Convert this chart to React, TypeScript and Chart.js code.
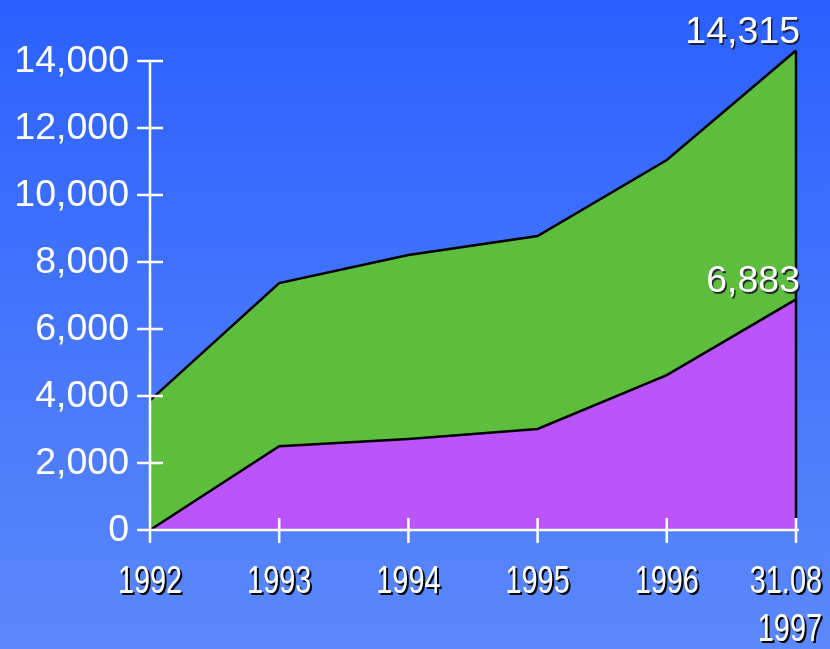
import React, { useEffect, useRef } from "react";
import { Chart, registerables } from "chart.js";

Chart.register(...registerables);

// Year categories along the bottom (multi-line labels as arrays)
const years: (string | string[])[] = ["1992", "1993", "1994", "1995", "1996", ["31.08", "1997"]];
// Lower band (purple)
const lowerSeries = [0, 2500, 2715, 3015, 4625, 6883];
// Upper total (green band sits between this and the lower band)
const totalSeries = [3870, 7370, 8210, 8775, 11045, 14315];
// Value axis ticks
const yTickValues = [0, 2000, 4000, 6000, 8000, 10000, 12000, 14000];

const FONT = '"Liberation Sans", Arial, sans-serif';

const fmt = (v: number) => v.toLocaleString("en-US");

// Axes, tick marks, tick labels, end labels and category labels drawn over the areas
const overlayPlugin = {
  id: "overlay",
  afterDatasetsDraw(chart: any) {
    const ctx: CanvasRenderingContext2D = chart.ctx;
    const x = chart.scales.x;
    const y = chart.scales.y;
    const y0 = y.getPixelForValue(0);
    const yTop = y.getPixelForValue(yTickValues[yTickValues.length - 1]);
    const xL = x.getPixelForValue(0);
    const lastIdx = years.length - 1;
    const xR = x.getPixelForValue(lastIdx);

    ctx.save();
    // right-hand closing edge of the areas
    ctx.strokeStyle = "#000";
    ctx.lineWidth = 2.5;
    ctx.beginPath();
    ctx.moveTo(xR, y.getPixelForValue(totalSeries[lastIdx]));
    ctx.lineTo(xR, y0 - 12);
    ctx.stroke();

    // axis lines
    ctx.strokeStyle = "#fff";
    ctx.lineWidth = 2.5;
    ctx.beginPath();
    ctx.moveTo(xL, yTop);
    ctx.lineTo(xL, y0);
    ctx.moveTo(xL - 12, y0);
    ctx.lineTo(xR + 3, y0);
    // y tick marks crossing the axis
    for (const v of yTickValues) {
      const py = y.getPixelForValue(v);
      ctx.moveTo(xL - 13, py);
      ctx.lineTo(xL + 13, py);
    }
    // x tick marks crossing the axis
    for (let i = 0; i < years.length; i++) {
      const px = x.getPixelForValue(i);
      ctx.moveTo(px, y0 - 12);
      ctx.lineTo(px, y0 + 13);
    }
    ctx.stroke();

    // value axis labels
    ctx.fillStyle = "#fff";
    ctx.font = `37.5px ${FONT}`;
    ctx.textAlign = "right";
    ctx.textBaseline = "middle";
    for (const v of yTickValues) {
      ctx.fillText(fmt(v), xL - 21, y.getPixelForValue(v) + 1);
    }

    // value labels at the end of each series
    ctx.textBaseline = "alphabetic";
    ctx.shadowColor = "rgba(20,20,40,0.85)";
    ctx.shadowOffsetX = 1.5;
    ctx.shadowOffsetY = 1.5;
    ctx.shadowBlur = 0;
    for (const s of [totalSeries, lowerSeries]) {
      const v = s[lastIdx];
      ctx.fillText(fmt(v), xR + 4, y.getPixelForValue(v) - 7);
    }

    // condensed category labels with a dark drop shadow, kept inside the canvas
    ctx.font = `38px ${FONT}`;
    ctx.textAlign = "center";
    ctx.shadowColor = "rgba(0,0,0,0.95)";
    ctx.shadowOffsetX = 2;
    ctx.shadowOffsetY = 2;
    const squeeze = 0.76;
    const edge = chart.width - 8;
    years.forEach((lab, i) => {
      const lines = Array.isArray(lab) ? lab : [lab];
      const px = x.getPixelForValue(i);
      lines.forEach((t, j) => {
        const half = (ctx.measureText(t).width * squeeze) / 2;
        const cx = Math.min(px, edge - half);
        ctx.save();
        ctx.translate(cx, y0 + 63 + j * 48);
        ctx.scale(squeeze, 1);
        ctx.fillText(t, 0, 0);
        ctx.restore();
      });
    });
    ctx.restore();
  },
};

export default function App() {
  const canvasRef = useRef<HTMLCanvasElement | null>(null);

  useEffect(() => {
    document.body.style.margin = "0";
    const canvas = canvasRef.current;
    if (!canvas) return;
    const chart = new Chart(canvas, {
      type: "line",
      data: {
        labels: years.map((l) => (Array.isArray(l) ? l.join(" ") : l)),
        datasets: [
          {
            label: "lower",
            data: lowerSeries,
            borderColor: "#000",
            borderWidth: 2.5,
            backgroundColor: "#bb55fb",
            fill: "origin",
            pointRadius: 0,
            tension: 0,
          },
          {
            label: "total",
            data: totalSeries,
            borderColor: "#000",
            borderWidth: 2.5,
            backgroundColor: "#5dbd3d",
            fill: "-1",
            pointRadius: 0,
            tension: 0,
          },
        ],
      },
      options: {
        animation: false,
        responsive: false,
        maintainAspectRatio: false,
        layout: { padding: { left: 150, right: 34, top: 47.6, bottom: 119 } },
        plugins: {
          legend: { display: false },
          tooltip: { enabled: false },
        },
        scales: {
          x: { type: "category", offset: false, display: false },
          y: { min: 0, max: 14400, display: false },
        },
      },
      plugins: [overlayPlugin],
    });
    return () => chart.destroy();
  }, []);

  return (
    <div
      style={{
        position: "fixed",
        left: 0,
        top: 0,
        width: 830,
        height: 649,
        background: "linear-gradient(to bottom, #2a60ff 0%, #4575fc 50%, #5b88fa 100%)",
      }}
    >
      <canvas ref={canvasRef} width={830} height={649} style={{ display: "block" }} />
    </div>
  );
}
